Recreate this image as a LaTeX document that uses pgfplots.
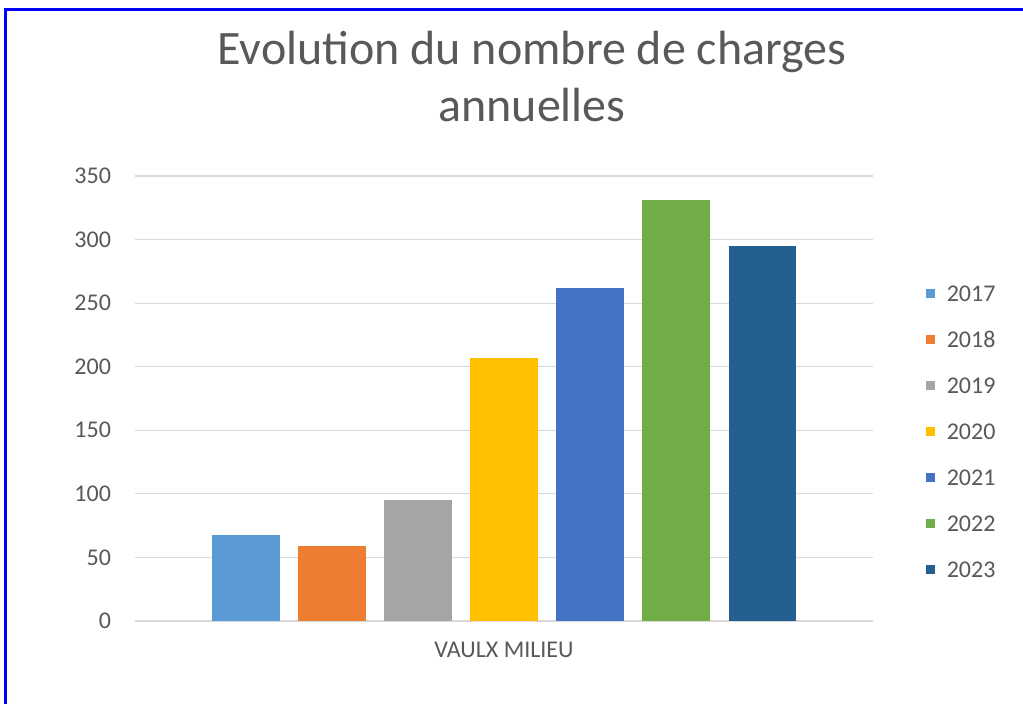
\documentclass[border=0pt]{standalone}
\usepackage{fontspec}
\setmainfont{Carlito}
\usepackage{pgfplots}
\pgfplotsset{compat=1.18}
\usepackage{xcolor}
\definecolor{txtgray}{RGB}{89,89,89}
\definecolor{gridgray}{RGB}{217,217,217}
\definecolor{c17}{RGB}{91,155,213}
\definecolor{c18}{RGB}{237,125,49}
\definecolor{c19}{RGB}{165,165,165}
\definecolor{c20}{RGB}{255,192,0}
\definecolor{c21}{RGB}{68,114,196}
\definecolor{c22}{RGB}{112,173,71}
\definecolor{c23}{RGB}{37,94,145}

\begin{document}
\begin{tikzpicture}
  % page = 1023 x 704 px, 1 px = 0.5pt
  \useasboundingbox (0,0) rectangle (511.5pt,352pt);
  \fill[white] (0,0) rectangle (511.5pt,352pt);
  \draw[blue, line width=1.5pt] (2.75pt,0) -- (2.75pt,347pt) -- (511.5pt,347pt);
  \begin{axis}[
      at={(67.5pt,41.5pt)}, anchor=south west,
      scale only axis,
      width=369pt, height=222.5pt,
      ybar, bar width=0.78,
      xmin=-0.29, xmax=8.29,
      ymin=0, ymax=350,
      ytick={0,50,...,350},
      xtick={4}, xticklabels={VAULX MILIEU},
      ymajorgrids, grid style={gridgray, line width=0.6pt},
      axis line style={draw=none},
      major tick length=0pt,
      /pgf/number format/assume math mode=true,
      tick label style={font=\fontsize{12}{14}\selectfont, text=txtgray},
      yticklabel style={xshift=-8.5pt},
      xticklabel style={yshift=-7pt},
      title={Evolution du nombre de charges\\annuelles},
      title style={font=\fontsize{24}{28.5}\selectfont, text=txtgray,
                   align=center, anchor=north, inner sep=0pt,
                   at={(0.538,1.299)}},
      legend image code/.code={\fill[#1] (0pt,-2.1pt) rectangle (4.2pt,2.1pt);},
      legend style={draw=none, fill=none, at={(1.0637,0.764)}, anchor=north west,
                    font=\fontsize{12}{14}\selectfont, text=txtgray,
                    row sep=15pt, column sep=6pt,
                    nodes={inner sep=0pt, text height=8pt, text depth=0pt},
                    cells={anchor=west}},
    ]
    \addplot[bar shift=0pt, fill=c17, draw=none] coordinates {(1,68)};
    \addplot[bar shift=0pt, fill=c18, draw=none] coordinates {(2,59)};
    \addplot[bar shift=0pt, fill=c19, draw=none] coordinates {(3,95)};
    \addplot[bar shift=0pt, fill=c20, draw=none] coordinates {(4,207)};
    \addplot[bar shift=0pt, fill=c21, draw=none] coordinates {(5,262)};
    \addplot[bar shift=0pt, fill=c22, draw=none] coordinates {(6,331)};
    \addplot[bar shift=0pt, fill=c23, draw=none] coordinates {(7,295)};
    \legend{2017,2018,2019,2020,2021,2022,2023}
  \end{axis}
\end{tikzpicture}
\end{document}
